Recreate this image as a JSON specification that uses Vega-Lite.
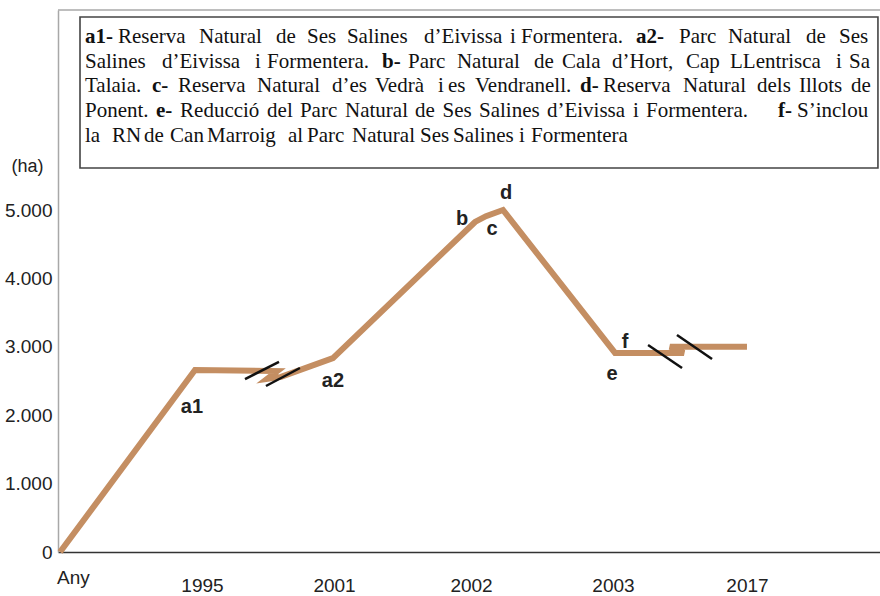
{
  "$schema": "https://vega.github.io/schema/vega-lite/v6.json",
  "width": 822,
  "height": 542,
  "autosize": "none",
  "padding": {"left": 58, "top": 10, "right": 0, "bottom": 44},
  "background": "white",
  "config": {"view": {"stroke": null}, "font": "Liberation Sans"},
  "datasets": {
    "growth": [
      {"step": 1, "x": 0.015, "y": 0},
      {"step": 2, "x": 1.0, "y": 2660},
      {"step": 3, "x": 1.6, "y": 2645},
      {"step": 4, "x": 1.526, "y": 2530},
      {"step": 5, "x": 1.628, "y": 2560},
      {"step": 6, "x": 2.007, "y": 2835},
      {"step": 7, "x": 3.044, "y": 4825},
      {"step": 8, "x": 3.124, "y": 4910},
      {"step": 9, "x": 3.248, "y": 5000},
      {"step": 10, "x": 4.066, "y": 2910},
      {"step": 11, "x": 4.569, "y": 2910},
      {"step": 12, "x": 4.467, "y": 3000},
      {"step": 13, "x": 5.029, "y": 3000}
    ],
    "breaks": [
      {"x": 1.365, "x2": 1.613, "y": 2529, "y2": 2778},
      {"x": 1.518, "x2": 1.766, "y": 2427, "y2": 2690},
      {"x": 4.307, "x2": 4.555, "y": 3026, "y2": 2690},
      {"x": 4.518, "x2": 4.774, "y": 3173, "y2": 2822}
    ],
    "marks": [
      {"t": "a1", "x": 0.978, "y": 2032},
      {"t": "a2", "x": 2.007, "y": 2412},
      {"t": "b", "x": 2.949, "y": 4781},
      {"t": "c", "x": 3.168, "y": 4635},
      {"t": "d", "x": 3.27, "y": 5161},
      {"t": "e", "x": 4.044, "y": 2515},
      {"t": "f", "x": 4.139, "y": 2982}
    ],
    "frame": [{"x": 0, "x2": 6, "y": 7924}],
    "box": [{"x": 0.1606, "x2": 5.985, "y": 7822, "y2": 5614}],
    "keys": [
      {"t": "a1-", "x": 0.197, "y": 7442},
      {"t": "a2-", "x": 4.219, "y": 7442},
      {"t": "b-", "x": 2.365, "y": 7083},
      {"t": "c-", "x": 0.686, "y": 6725},
      {"t": "d-", "x": 3.81, "y": 6725},
      {"t": "e-", "x": 0.715, "y": 6360},
      {"t": "f-", "x": 5.255, "y": 6360}
    ],
    "words": [
      {"t": "Reserva", "x": 0.438, "y": 7442},
      {"t": "Natural", "x": 1.029, "y": 7442},
      {"t": "de", "x": 1.591, "y": 7442},
      {"t": "Ses", "x": 1.818, "y": 7442},
      {"t": "Salines", "x": 2.109, "y": 7442},
      {"t": "d’Eivissa", "x": 2.672, "y": 7442},
      {"t": "i", "x": 3.299, "y": 7442},
      {"t": "Formentera.", "x": 3.38, "y": 7442},
      {"t": "Parc", "x": 4.533, "y": 7442},
      {"t": "Natural", "x": 4.891, "y": 7442},
      {"t": "de", "x": 5.46, "y": 7442},
      {"t": "Ses", "x": 5.701, "y": 7442},
      {"t": "Salines", "x": 0.197, "y": 7083},
      {"t": "d’Eivissa", "x": 0.759, "y": 7083},
      {"t": "i", "x": 1.438, "y": 7083},
      {"t": "Formentera.", "x": 1.526, "y": 7083},
      {"t": "Parc", "x": 2.555, "y": 7083},
      {"t": "Natural", "x": 2.912, "y": 7083},
      {"t": "de", "x": 3.474, "y": 7083},
      {"t": "Cala", "x": 3.679, "y": 7083},
      {"t": "d’Hort,", "x": 4.044, "y": 7083},
      {"t": "Cap", "x": 4.584, "y": 7083},
      {"t": "LLentrisca", "x": 4.905, "y": 7083},
      {"t": "i", "x": 5.679, "y": 7083},
      {"t": "Sa", "x": 5.774, "y": 7083},
      {"t": "Talaia.", "x": 0.197, "y": 6725},
      {"t": "Reserva", "x": 0.876, "y": 6725},
      {"t": "Natural", "x": 1.453, "y": 6725},
      {"t": "d’es", "x": 2.0, "y": 6725},
      {"t": "Vedrà", "x": 2.314, "y": 6725},
      {"t": "i", "x": 2.774, "y": 6725},
      {"t": "es", "x": 2.847, "y": 6725},
      {"t": "Vendranell.", "x": 3.044, "y": 6725},
      {"t": "Reserva", "x": 3.978, "y": 6725},
      {"t": "Natural", "x": 4.562, "y": 6725},
      {"t": "dels", "x": 5.102, "y": 6725},
      {"t": "Illots", "x": 5.409, "y": 6725},
      {"t": "de", "x": 5.788, "y": 6725},
      {"t": "Ponent.", "x": 0.197, "y": 6360},
      {"t": "Reducció", "x": 0.891, "y": 6360},
      {"t": "del", "x": 1.526, "y": 6360},
      {"t": "Parc", "x": 1.766, "y": 6360},
      {"t": "Natural", "x": 2.095, "y": 6360},
      {"t": "de", "x": 2.606, "y": 6360},
      {"t": "Ses", "x": 2.807, "y": 6360},
      {"t": "Salines", "x": 3.073, "y": 6360},
      {"t": "d’Eivissa", "x": 3.569, "y": 6360},
      {"t": "i", "x": 4.197, "y": 6360},
      {"t": "Formentera.", "x": 4.292, "y": 6360},
      {"t": "S’inclou", "x": 5.394, "y": 6360},
      {"t": "la", "x": 0.197, "y": 6001},
      {"t": "RN", "x": 0.394, "y": 6001},
      {"t": "de", "x": 0.628, "y": 6001},
      {"t": "Can", "x": 0.818, "y": 6001},
      {"t": "Marroig", "x": 1.088, "y": 6001},
      {"t": "al", "x": 1.679, "y": 6001},
      {"t": "Parc", "x": 1.818, "y": 6001},
      {"t": "Natural", "x": 2.146, "y": 6001},
      {"t": "Ses", "x": 2.642, "y": 6001},
      {"t": "Salines", "x": 2.883, "y": 6001},
      {"t": "i", "x": 3.365, "y": 6001},
      {"t": "Formentera", "x": 3.453, "y": 6001}
    ]
  },
  "encoding": {
    "x": {
      "field": "x",
      "type": "quantitative",
      "scale": {"domain": [0, 6], "nice": false, "zero": false},
      "axis": {
        "values": [0.109, 1.051, 2.015, 3.015, 4.051, 5.029],
        "labelExpr": "datum.value < 0.5 ? 'Any' : datum.value < 1.5 ? '1995' : datum.value < 2.5 ? '2001' : datum.value < 3.5 ? '2002' : datum.value < 4.5 ? '2003' : '2017'",
        "ticks": false,
        "grid": false,
        "domainColor": "#333333",
        "domainWidth": 1.5,
        "labelFont": "Liberation Sans",
        "labelFontSize": 19,
        "labelColor": "#222222",
        "labelBaseline": "top",
        "labelAlign": "center",
        "labelFlush": false,
        "labelOverlap": false,
        "labelPadding": {"condition": {"test": "datum.value < 0.5", "value": 16}, "value": 24},
        "title": null
      }
    },
    "y": {
      "field": "y",
      "type": "quantitative",
      "scale": {"domain": [0, 7924], "nice": false, "zero": false},
      "axis": {
        "values": [0, 1000, 2000, 3000, 4000, 5000],
        "labelExpr": "datum.value == 0 ? '0' : format(datum.value / 1000, '.3f')",
        "ticks": false,
        "grid": false,
        "domainColor": "#a8a8a8",
        "domainWidth": 1.5,
        "labelFont": "Liberation Sans",
        "labelFontSize": 19,
        "labelColor": "#222222",
        "labelPadding": 6,
        "title": "(ha)",
        "titleAngle": 0,
        "titleX": -31,
        "titleY": 156,
        "titleAlign": "center",
        "titleBaseline": "middle",
        "titleFont": "Liberation Sans",
        "titleFontSize": 18,
        "titleFontWeight": "normal",
        "titleColor": "#222222"
      }
    }
  },
  "layer": [
    {
      "data": {"name": "frame"},
      "mark": {"type": "rule", "color": "#a8a8a8", "strokeWidth": 1.5},
      "encoding": {"x2": {"field": "x2"}}
    },
    {
      "data": {"name": "box"},
      "mark": {"type": "rect", "fill": "white", "stroke": "#444444", "strokeWidth": 1.6},
      "encoding": {"x2": {"field": "x2"}, "y2": {"field": "y2"}}
    },
    {
      "data": {"name": "words"},
      "mark": {"type": "text", "font": "Liberation Serif", "fontSize": 21, "align": "left", "baseline": "alphabetic", "color": "#111111"},
      "encoding": {"text": {"field": "t"}}
    },
    {
      "data": {"name": "keys"},
      "mark": {"type": "text", "font": "Liberation Serif", "fontSize": 21, "fontWeight": "bold", "align": "left", "baseline": "alphabetic", "color": "#111111"},
      "encoding": {"text": {"field": "t"}}
    },
    {
      "data": {"name": "growth"},
      "mark": {"type": "line", "color": "#c48e62", "strokeWidth": 6, "strokeJoin": "miter", "strokeCap": "butt"},
      "encoding": {"order": {"field": "step", "type": "quantitative"}}
    },
    {
      "data": {"name": "breaks"},
      "mark": {"type": "rule", "color": "#111111", "strokeWidth": 2.5},
      "encoding": {"x2": {"field": "x2"}, "y2": {"field": "y2"}}
    },
    {
      "data": {"name": "marks"},
      "mark": {"type": "text", "font": "Liberation Sans", "fontSize": 20, "fontWeight": "bold", "align": "center", "baseline": "alphabetic", "color": "#222222"},
      "encoding": {"text": {"field": "t"}}
    }
  ]
}
